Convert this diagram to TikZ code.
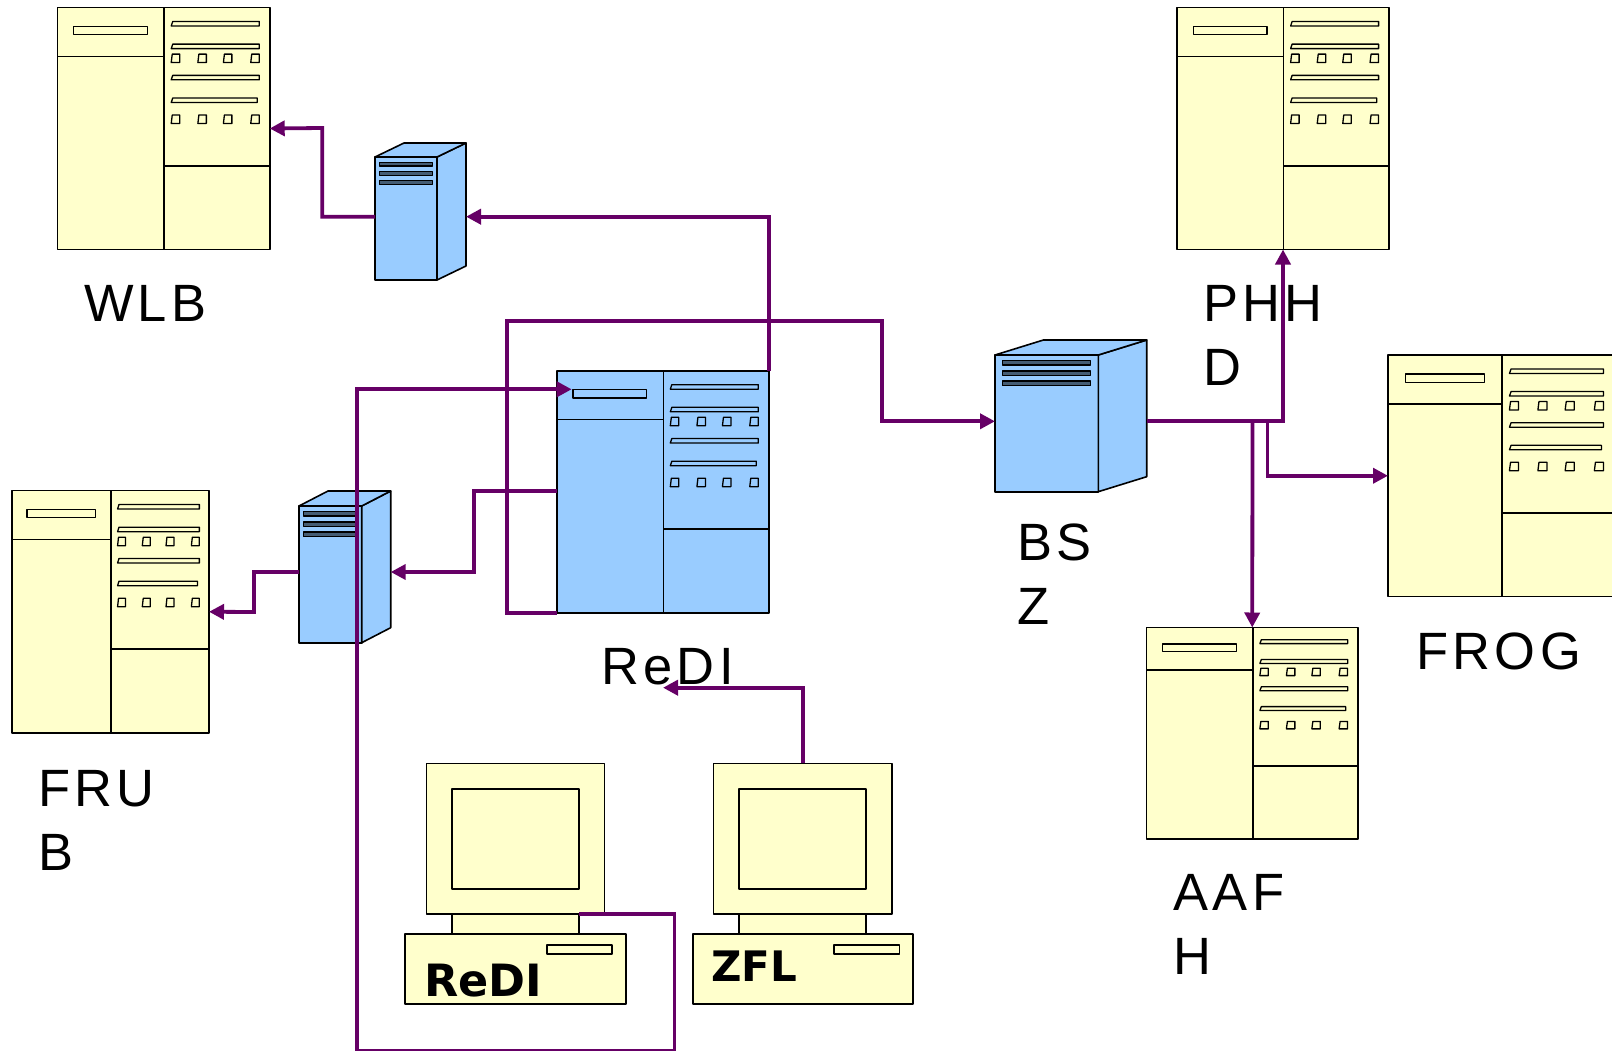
\documentclass[tikz,border=0pt]{standalone}
\usepackage{fontspec}
\usetikzlibrary{arrows.meta,calc}
\setmainfont{Liberation Sans}
\newfontfamily\lblfont[LetterSpace=8.5]{Liberation Sans}
\newfontfamily\pcfont{DejaVu Sans}
\definecolor{devyellow}{HTML}{FFFFCC}
\definecolor{devblue}{HTML}{99CCFF}
\definecolor{linkpurple}{HTML}{660066}
\tikzset{
  devline/.style={draw=black,line width=1.6pt,line join=round},
  devbox/.style={devline,rectangle,inner sep=0pt,outer sep=0pt,anchor=north west},
  slotbar/.style={draw=black,line width=1.3pt,line join=round},
  linkline/.style={draw=linkpurple,line width=3.8pt,line join=miter},
  linkarrow/.style={linkline,-{Triangle[length=15pt,width=15pt]}},
  biglabel/.style={inner sep=0pt,outer sep=0pt,anchor=north west,align=left,
    font=\lblfont\fontsize{52.5}{64}\selectfont},
  pclabel/.style={inner sep=0pt,outer sep=0pt,anchor=base west,
    font=\pcfont\bfseries\fontsize{42}{42}\selectfont}
}
% name, x0, y0, x1, y1, fill
\newcommand{\rackdev}[6]{%
  \node[devbox,fill=#6,minimum width={(#4-#2)*1pt},minimum height={(#5-#3)*1pt}] (#1) at (#2,#3) {};
  \begin{scope}[shift={(#2,#3)},xscale={(#4-#2)/212.7},yscale={(#5-#3)/242.5}]
    \draw[devline] (107,0) -- (107,242.5);
    \draw[devline] (0,49) -- (107,49);
    \draw[devline] (107,158.7) -- (212.7,158.7);
    \draw[slotbar] (16.3,19) rectangle (90.3,27.3);
    \foreach \yy in {14,36.7,68}{\draw[slotbar] (115.5,\yy) -- (202.3,\yy) -- (202.3,\yy+4.5) -- (114,\yy+4.5) -- cycle;}
    \draw[slotbar] (115.5,90.7) -- (200.3,90.7) -- (200.3,95.2) -- (114,95.2) -- cycle;
    \foreach \yy in {46.7,107.7}{
      \foreach \xx in {114,140.7,166.3,193.7}{
        \draw[slotbar] (\xx+1,\yy) -- (\xx+8.5,\yy) -- (\xx+8.5,\yy+8.5) -- (\xx,\yy+8.5) -- cycle;}}
  \end{scope}}
% name, x0, y0, x1, y1, depth x, depth y
\newcommand{\serverdev}[7]{%
  \node[devbox,fill=devblue,minimum width={(#4-#2)*1pt},minimum height={(#5-#3)*1pt}] (#1) at (#2,#3) {};
  \draw[devline,fill=devblue] (#4,#3) -- ++(#6,-#7) -- ++(0,#5-#3) -- (#4,#5) -- cycle;
  \draw[devline,fill=devblue] (#2,#3) -- ++(#6,-#7) -- ++(#4-#2,0) -- (#4,#3) -- cycle;
  \begin{scope}[shift={(#2,#3)},xscale={(#4-#2)},yscale={(#5-#3)}]
    \foreach \yy/\zz in {0.042/0.074,0.116/0.148,0.191/0.224}{
      \draw[slotbar,fill=devblue!45!black] (0.07,\yy) rectangle (0.925,\zz);}
  \end{scope}}
% prefix, mx0, mx1, base x0, base x1, slot x0, slot x1
\newcommand{\pcdev}[7]{%
  \node[devbox,fill=devyellow,minimum width={(#3-#2)*1pt},minimum height=150.7pt] (#1mon) at (#2,763.3) {};
  \node[devbox,fill=devyellow,minimum width=127pt,minimum height=100.3pt] (#1scr) at ({#2+25.5},788.7) {};
  \node[devbox,fill=devyellow,minimum width=127pt,minimum height=20pt] (#1neck) at ({#2+25.5},914) {};
  \node[devbox,fill=devyellow,minimum width={(#5-#4)*1pt},minimum height=69.7pt] (#1base) at (#4,934) {};
  \node[devbox,fill=devyellow,minimum width={(#7-#6)*1pt},minimum height=9pt,line width=1.3pt] (#1slot) at (#6,945) {};
}
\begin{document}
\begin{tikzpicture}[x=1pt,y=-1pt]
\useasboundingbox (0,0) rectangle (1612,1051);
% racks
\rackdev{wlb}{57.5}{7.5}{269.7}{249.5}{devyellow}
\rackdev{phhd}{1177}{7.5}{1389}{249.5}{devyellow}
\rackdev{frog}{1388}{355}{1614.6}{596.5}{devyellow}
\rackdev{aafh}{1146.5}{627.5}{1358}{839}{devyellow}
\rackdev{frub}{12}{490.5}{209}{733}{devyellow}
\rackdev{redi}{556.7}{370.7}{768.7}{612.7}{devblue}
% servers
\serverdev{srvw}{375}{157}{437}{280}{29}{14}
\serverdev{srvf}{299}{506}{361.7}{642.7}{29}{15}
\serverdev{srvb}{995}{355}{1098.3}{491.7}{48.4}{15}
% workstations
\pcdev{rw}{426.5}{604.5}{405}{626}{547}{612}
\pcdev{zw}{713.5}{892}{693}{913}{834}{899.5}
\node[pclabel,font=\pcfont\bfseries\fontsize{44.5}{44}\selectfont] (rwtext) at (424.5,996.7) {ReDI};
\node[pclabel] (zwtext) at (711,981.7) {ZFL};
% labels
\node[biglabel] (lwlb) at (84,285) {WLB};
\node[biglabel] (lphhd) at (1203,285.5) {PHH\\D};
\node[biglabel] (lbsz) at (1017,523.5) {BS\\Z};
\node[biglabel] (lfrog) at (1416,632.5) {FROG};
\node[biglabel] (lredi) at (601,648) {ReDI};
\node[biglabel] (lfrub) at (38,770) {FRU\\B};
\node[biglabel] (laafh) at (1173.5,874) {AAF\\H};
% ports and bends
\coordinate (srvwW) at (375,216.7);
\coordinate (srvwE) at (466,216.7);
\coordinate (srvfW) at (299,572);
\coordinate (srvfE) at (390.7,572);
\coordinate (srvbW) at (995,421.3);
\coordinate (srvbE) at (1146.7,421.3);
\coordinate (rediL) at (556.7,491);
\coordinate (rediS) at (571.7,389.3);
\coordinate (zflT) at (663,687.7);
\coordinate (b1) at (507,320.7);
\coordinate (b2) at (882,320.7);
\coordinate (b3) at (674.5,1051);
\coordinate (b4) at (356.7,1051);
\coordinate (b5) at (1252.5,421.3);
\coordinate (b6) at (1267.5,421.3);
% connectors
\draw[linkarrow] (srvwW) -| (322.3,128) -- (wlb.east);
\draw[linkarrow] (redi.north east) |- (srvwE);
\draw[linkarrow] (redi.south west) -| (b1) -- (b2) |- (srvbW);
\draw[linkarrow] (rediL) -| (473.7,572) -- (srvfE);
\draw[linkarrow] (srvfW) -| (254,612) -- (frub.east);
\draw[linkarrow] (rwneck.north east) -| (b3) -- (b4) |- (rediS);
\draw[linkarrow] (zwmon.north) |- (zflT);
\draw[linkarrow] (srvbE) -| (phhd.south);
\draw[linkarrow] (b5) -- (aafh.north);
\draw[linkarrow] (b6) |- (frog.west);
\end{tikzpicture}
\end{document}
